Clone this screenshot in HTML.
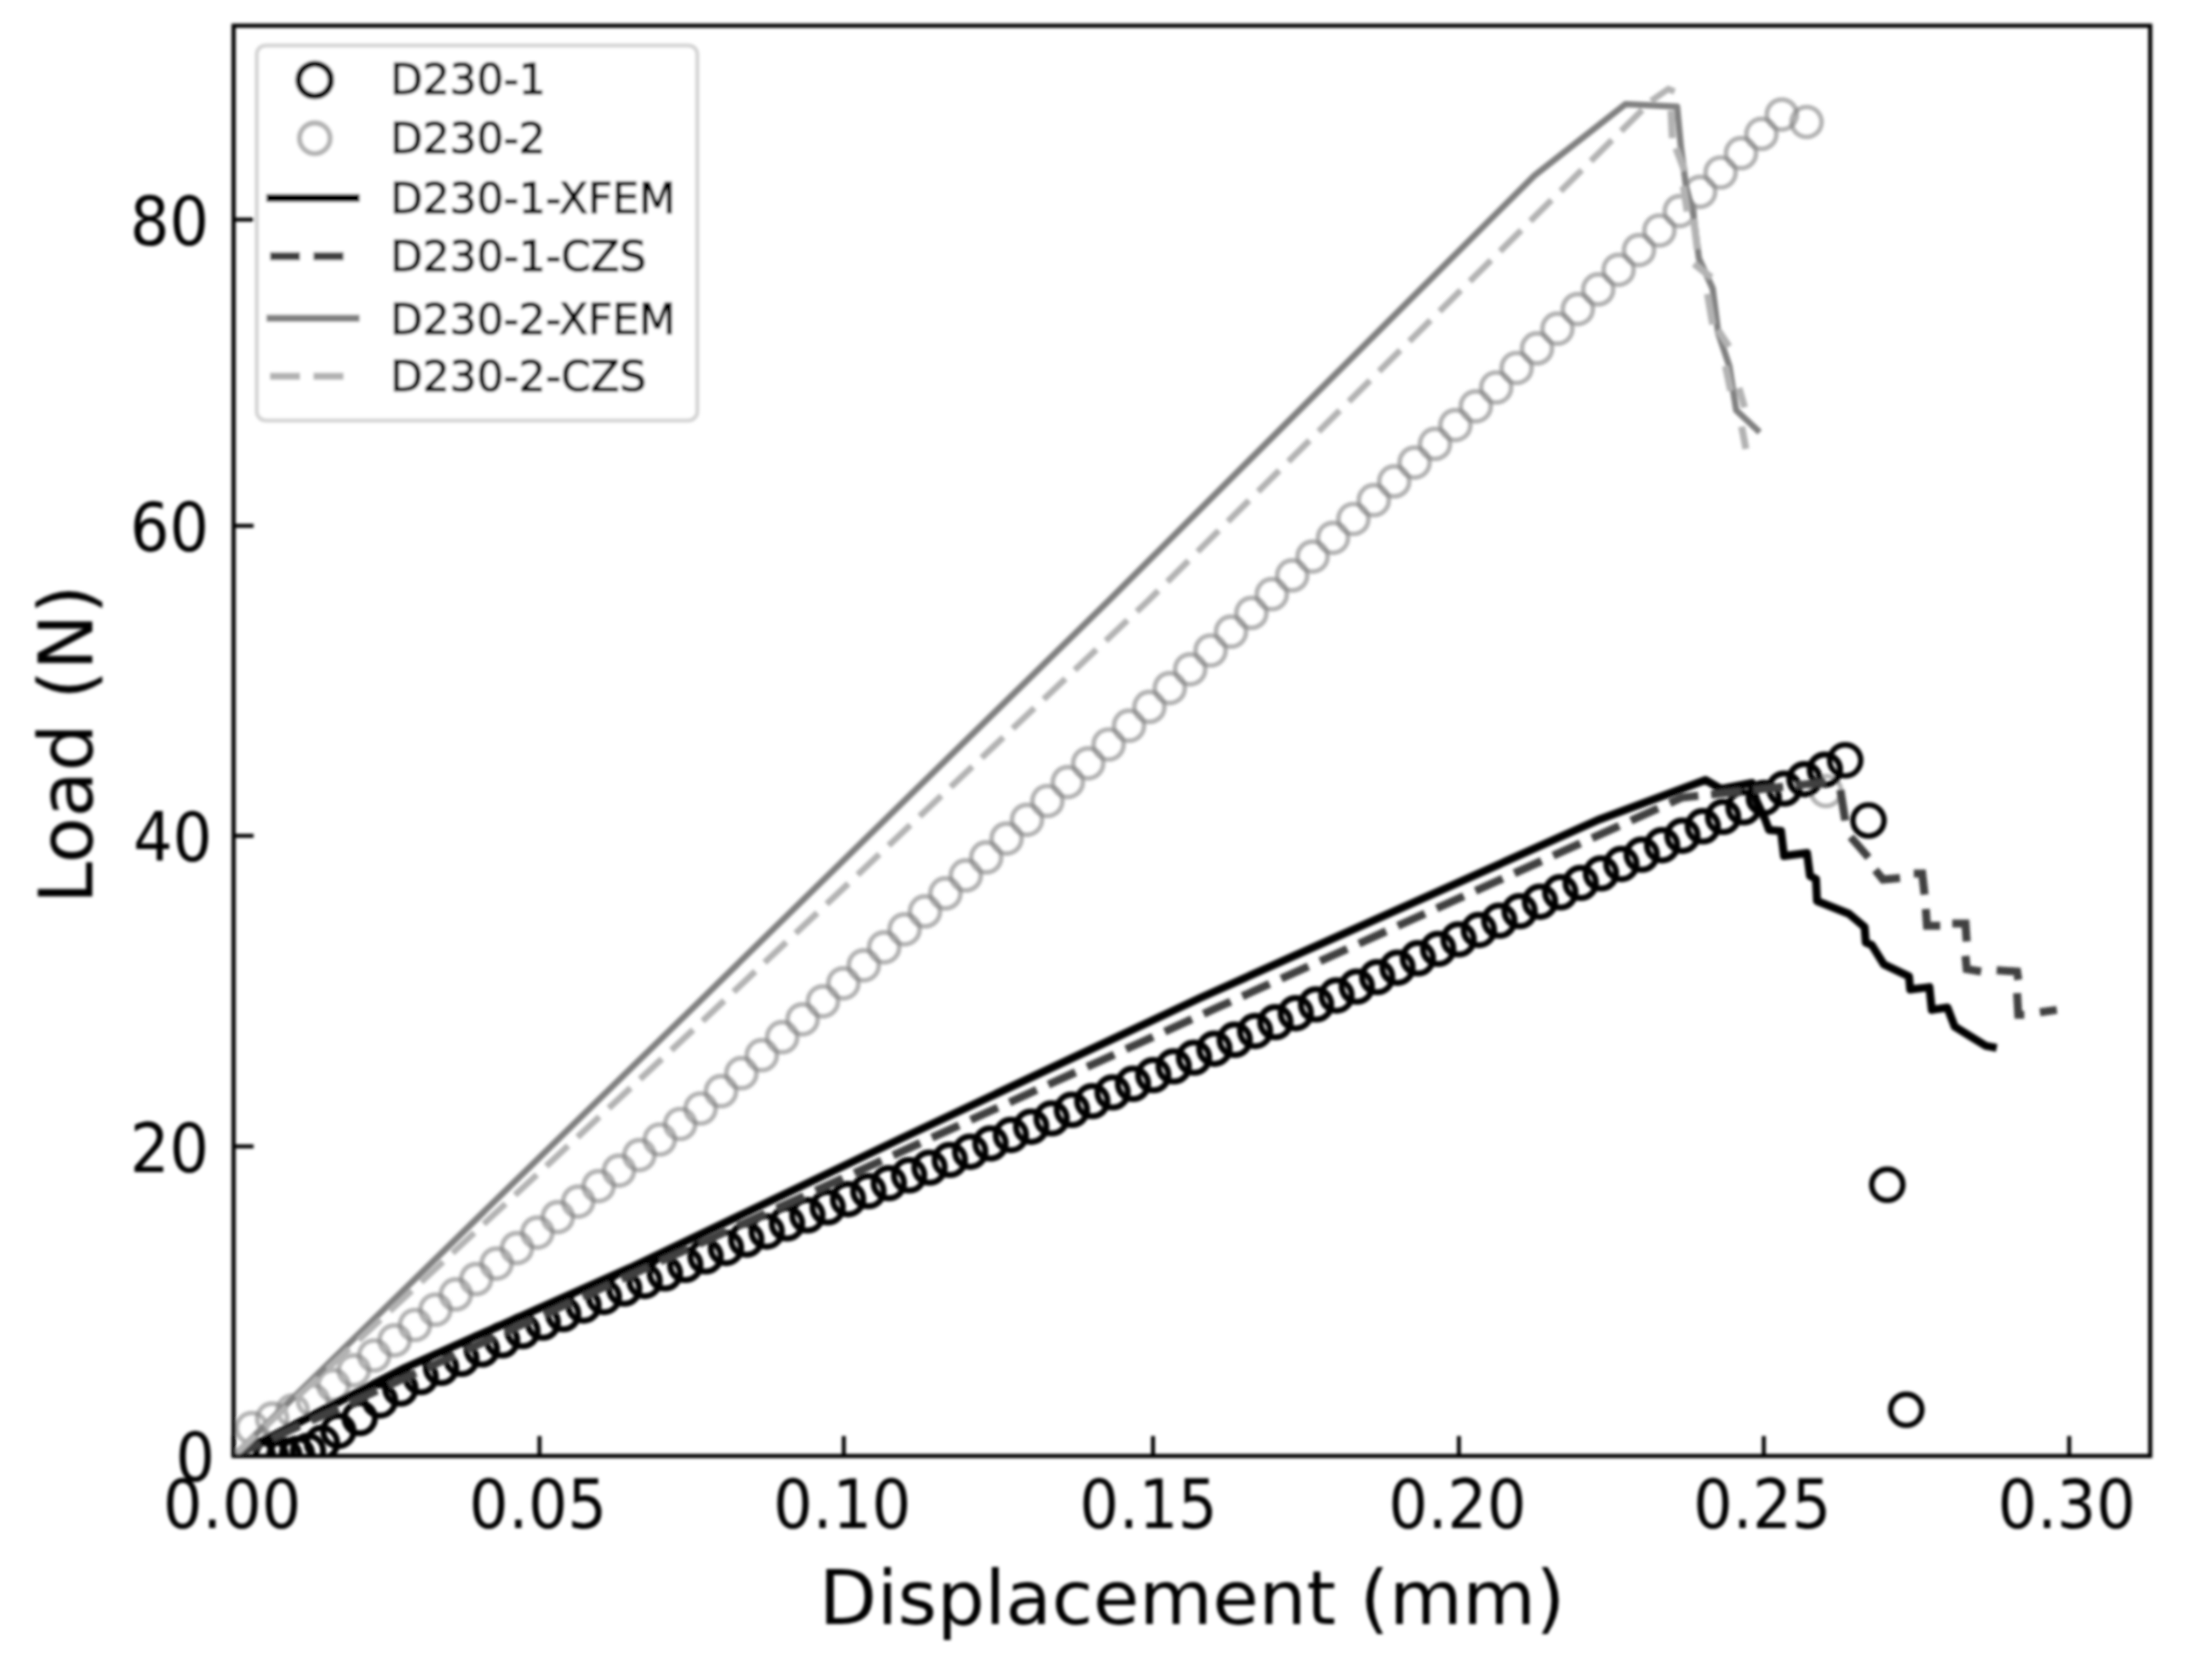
<!DOCTYPE html>
<html><head><meta charset="utf-8"><title>Load-Displacement</title>
<style>html,body{margin:0;padding:0;background:#fff}body{width:2190px;height:1665px;overflow:hidden}svg text{font-family:"DejaVu Sans","Liberation Sans",sans-serif;fill:#000}.t{stroke:none}.t2{stroke:#000;stroke-width:1.0px}</style>
</head><body>
<svg width="2190" height="1665" viewBox="0 0 2190 1665" style="display:block">
<defs><clipPath id="ax"><rect x="233.6" y="25.7" width="1916.6" height="1430.3"/></clipPath><filter id="bl" x="-2%" y="-2%" width="104%" height="104%"><feGaussianBlur stdDeviation="1.5"/></filter></defs>
<rect width="2190" height="1665" fill="#fff"/>
<g filter="url(#bl)">
<g clip-path="url(#ax)">
<g fill="none" stroke="#808080" stroke-width="4.7" stroke-opacity="0.6"><circle cx="251.8" cy="1428.0" r="15.0"/>
<circle cx="272.2" cy="1418.7" r="15.0"/>
<circle cx="292.6" cy="1410.6" r="15.0"/>
<circle cx="313.0" cy="1400.5" r="15.0"/>
<circle cx="333.4" cy="1385.2" r="15.0"/>
<circle cx="353.8" cy="1370.3" r="15.0"/>
<circle cx="374.2" cy="1355.5" r="15.0"/>
<circle cx="394.6" cy="1340.3" r="15.0"/>
<circle cx="415.0" cy="1325.0" r="15.0"/>
<circle cx="435.4" cy="1309.7" r="15.0"/>
<circle cx="455.8" cy="1294.4" r="15.0"/>
<circle cx="476.2" cy="1279.1" r="15.0"/>
<circle cx="496.6" cy="1263.6" r="15.0"/>
<circle cx="517.0" cy="1248.1" r="15.0"/>
<circle cx="537.4" cy="1232.6" r="15.0"/>
<circle cx="557.8" cy="1217.1" r="15.0"/>
<circle cx="578.2" cy="1201.6" r="15.0"/>
<circle cx="598.6" cy="1186.1" r="15.0"/>
<circle cx="619.0" cy="1170.6" r="15.0"/>
<circle cx="639.4" cy="1155.1" r="15.0"/>
<circle cx="659.8" cy="1139.5" r="15.0"/>
<circle cx="680.2" cy="1124.0" r="15.0"/>
<circle cx="700.6" cy="1108.5" r="15.0"/>
<circle cx="721.0" cy="1091.2" r="15.0"/>
<circle cx="741.4" cy="1073.2" r="15.0"/>
<circle cx="761.8" cy="1055.2" r="15.0"/>
<circle cx="782.2" cy="1037.2" r="15.0"/>
<circle cx="802.6" cy="1019.3" r="15.0"/>
<circle cx="823.0" cy="1001.3" r="15.0"/>
<circle cx="843.4" cy="983.3" r="15.0"/>
<circle cx="863.8" cy="965.3" r="15.0"/>
<circle cx="884.2" cy="947.3" r="15.0"/>
<circle cx="904.6" cy="929.3" r="15.0"/>
<circle cx="925.0" cy="911.4" r="15.0"/>
<circle cx="945.4" cy="893.4" r="15.0"/>
<circle cx="965.8" cy="875.4" r="15.0"/>
<circle cx="986.2" cy="857.4" r="15.0"/>
<circle cx="1006.6" cy="838.6" r="15.0"/>
<circle cx="1027.0" cy="819.8" r="15.0"/>
<circle cx="1047.4" cy="801.0" r="15.0"/>
<circle cx="1067.8" cy="782.1" r="15.0"/>
<circle cx="1088.2" cy="763.3" r="15.0"/>
<circle cx="1108.6" cy="744.5" r="15.0"/>
<circle cx="1129.0" cy="725.7" r="15.0"/>
<circle cx="1149.4" cy="706.9" r="15.0"/>
<circle cx="1169.8" cy="688.1" r="15.0"/>
<circle cx="1190.2" cy="669.3" r="15.0"/>
<circle cx="1210.6" cy="650.5" r="15.0"/>
<circle cx="1231.0" cy="631.7" r="15.0"/>
<circle cx="1251.4" cy="612.9" r="15.0"/>
<circle cx="1271.8" cy="594.2" r="15.0"/>
<circle cx="1292.2" cy="575.4" r="15.0"/>
<circle cx="1312.6" cy="556.6" r="15.0"/>
<circle cx="1333.0" cy="537.8" r="15.0"/>
<circle cx="1353.4" cy="519.0" r="15.0"/>
<circle cx="1373.8" cy="500.2" r="15.0"/>
<circle cx="1394.2" cy="481.4" r="15.0"/>
<circle cx="1414.6" cy="462.6" r="15.0"/>
<circle cx="1435.0" cy="443.9" r="15.0"/>
<circle cx="1455.4" cy="425.1" r="15.0"/>
<circle cx="1475.8" cy="406.3" r="15.0"/>
<circle cx="1496.2" cy="387.5" r="15.0"/>
<circle cx="1516.6" cy="368.0" r="15.0"/>
<circle cx="1537.0" cy="348.4" r="15.0"/>
<circle cx="1557.4" cy="328.7" r="15.0"/>
<circle cx="1577.8" cy="309.1" r="15.0"/>
<circle cx="1598.2" cy="289.4" r="15.0"/>
<circle cx="1618.6" cy="269.8" r="15.0"/>
<circle cx="1639.0" cy="250.1" r="15.0"/>
<circle cx="1659.4" cy="230.5" r="15.0"/>
<circle cx="1679.8" cy="211.1" r="15.0"/>
<circle cx="1700.2" cy="191.8" r="15.0"/>
<circle cx="1720.6" cy="172.5" r="15.0"/>
<circle cx="1741.0" cy="153.2" r="15.0"/>
<circle cx="1761.4" cy="133.9" r="15.0"/>
<circle cx="1781.8" cy="114.6" r="15.0"/>
<circle cx="1806.6" cy="122.0" r="15.0"/>
<circle cx="1826.0" cy="791.0" r="15.0"/></g>
<g fill="none" stroke="#000" stroke-width="6.0"><circle cx="258.0" cy="1456.0" r="15.2"/>
<circle cx="271.0" cy="1456.0" r="15.2"/>
<circle cx="284.4" cy="1455.5" r="15.2"/>
<circle cx="297.0" cy="1454.0" r="15.2"/>
<circle cx="308.0" cy="1451.0" r="15.2"/>
<circle cx="322.0" cy="1443.0" r="15.2"/>
<circle cx="338.4" cy="1431.0" r="15.2"/>
<circle cx="359.7" cy="1418.1" r="15.2"/>
<circle cx="380.0" cy="1400.5" r="15.2"/>
<circle cx="400.4" cy="1388.6" r="15.2"/>
<circle cx="420.7" cy="1377.1" r="15.2"/>
<circle cx="441.1" cy="1367.8" r="15.2"/>
<circle cx="461.4" cy="1358.9" r="15.2"/>
<circle cx="481.8" cy="1349.4" r="15.2"/>
<circle cx="502.1" cy="1340.3" r="15.2"/>
<circle cx="522.5" cy="1331.1" r="15.2"/>
<circle cx="542.8" cy="1322.6" r="15.2"/>
<circle cx="563.2" cy="1314.1" r="15.2"/>
<circle cx="583.5" cy="1305.5" r="15.2"/>
<circle cx="603.9" cy="1297.0" r="15.2"/>
<circle cx="624.2" cy="1288.6" r="15.2"/>
<circle cx="644.6" cy="1281.0" r="15.2"/>
<circle cx="664.9" cy="1273.3" r="15.2"/>
<circle cx="685.3" cy="1264.9" r="15.2"/>
<circle cx="705.6" cy="1256.4" r="15.2"/>
<circle cx="726.0" cy="1248.0" r="15.2"/>
<circle cx="746.3" cy="1239.6" r="15.2"/>
<circle cx="766.7" cy="1231.5" r="15.2"/>
<circle cx="787.0" cy="1223.4" r="15.2"/>
<circle cx="807.4" cy="1215.3" r="15.2"/>
<circle cx="827.7" cy="1207.3" r="15.2"/>
<circle cx="848.1" cy="1199.2" r="15.2"/>
<circle cx="868.4" cy="1191.1" r="15.2"/>
<circle cx="888.8" cy="1183.1" r="15.2"/>
<circle cx="909.1" cy="1175.3" r="15.2"/>
<circle cx="929.5" cy="1167.6" r="15.2"/>
<circle cx="949.8" cy="1159.9" r="15.2"/>
<circle cx="970.2" cy="1151.7" r="15.2"/>
<circle cx="990.5" cy="1143.4" r="15.2"/>
<circle cx="1010.9" cy="1135.0" r="15.2"/>
<circle cx="1031.2" cy="1126.7" r="15.2"/>
<circle cx="1051.6" cy="1118.4" r="15.2"/>
<circle cx="1071.9" cy="1109.8" r="15.2"/>
<circle cx="1092.3" cy="1101.1" r="15.2"/>
<circle cx="1112.6" cy="1092.4" r="15.2"/>
<circle cx="1133.0" cy="1083.8" r="15.2"/>
<circle cx="1153.3" cy="1075.1" r="15.2"/>
<circle cx="1173.7" cy="1066.4" r="15.2"/>
<circle cx="1194.0" cy="1057.6" r="15.2"/>
<circle cx="1214.4" cy="1048.7" r="15.2"/>
<circle cx="1234.7" cy="1039.8" r="15.2"/>
<circle cx="1255.1" cy="1031.0" r="15.2"/>
<circle cx="1275.4" cy="1022.1" r="15.2"/>
<circle cx="1295.8" cy="1013.2" r="15.2"/>
<circle cx="1316.1" cy="1004.4" r="15.2"/>
<circle cx="1336.5" cy="995.5" r="15.2"/>
<circle cx="1356.8" cy="986.6" r="15.2"/>
<circle cx="1377.2" cy="977.1" r="15.2"/>
<circle cx="1397.5" cy="967.7" r="15.2"/>
<circle cx="1417.9" cy="958.3" r="15.2"/>
<circle cx="1438.2" cy="948.9" r="15.2"/>
<circle cx="1458.6" cy="939.4" r="15.2"/>
<circle cx="1478.9" cy="930.0" r="15.2"/>
<circle cx="1499.3" cy="920.6" r="15.2"/>
<circle cx="1519.6" cy="911.1" r="15.2"/>
<circle cx="1540.0" cy="901.7" r="15.2"/>
<circle cx="1560.3" cy="892.3" r="15.2"/>
<circle cx="1580.7" cy="882.9" r="15.2"/>
<circle cx="1601.0" cy="873.4" r="15.2"/>
<circle cx="1621.4" cy="864.0" r="15.2"/>
<circle cx="1641.7" cy="854.6" r="15.2"/>
<circle cx="1662.1" cy="845.2" r="15.2"/>
<circle cx="1682.4" cy="835.7" r="15.2"/>
<circle cx="1702.8" cy="826.3" r="15.2"/>
<circle cx="1723.1" cy="816.9" r="15.2"/>
<circle cx="1743.5" cy="807.4" r="15.2"/>
<circle cx="1763.8" cy="798.0" r="15.2"/>
<circle cx="1784.2" cy="788.6" r="15.2"/>
<circle cx="1804.5" cy="779.2" r="15.2"/>
<circle cx="1824.9" cy="769.7" r="15.2"/></g>
<g fill="none" stroke="#000" stroke-width="5.4"><circle cx="1845.2" cy="760.3" r="15.6"/>
<circle cx="1868.5" cy="820.5" r="15.6"/>
<circle cx="1887.3" cy="1184.8" r="15.6"/>
<circle cx="1906.3" cy="1409.8" r="15.6"/></g>
<path d="M233.6,1456.0 L405.0,1367.8 L630.0,1268.0 L900.0,1139.0 L1200.0,998.0 L1600.0,819.2 L1705.5,780.0 L1721.0,789.0 L1752.0,783.0 L1756.0,800.0 L1765.0,819.0 L1769.0,830.0 L1781.0,831.0 L1784.0,856.0 L1807.0,853.0 L1810.0,876.0 L1816.0,879.0 L1817.0,901.0 L1848.9,913.8 L1864.6,927.0 L1865.8,942.6 L1871.8,945.0 L1883.8,964.3 L1909.0,976.3 L1910.2,989.5 L1929.4,987.1 L1931.8,1009.9 L1947.4,1007.5 L1954.7,1026.7 L1985.9,1045.9 L1996.7,1047.9" fill="none" stroke="#000" stroke-width="8" stroke-linejoin="round"/>
<path d="M233.6,1456.0 L1217.1,1007.7 L1681.7,797.6 L1838.4,780.8" fill="none" stroke="#404040" stroke-width="8" stroke-dasharray="29.8 12.84" stroke-dashoffset="0"/>
<path d="M1840.4,790.0 L1845.2,820.5" fill="none" stroke="#404040" stroke-width="8" stroke-linejoin="miter"/>
<path d="M1850.7,837.0 L1868.5,857.5" fill="none" stroke="#404040" stroke-width="8" stroke-linejoin="miter"/>
<path d="M1875.3,870.0 L1883.0,879.5 L1900.0,878.0" fill="none" stroke="#404040" stroke-width="8" stroke-linejoin="miter"/>
<path d="M1913.8,873.5 L1922.2,873.5 L1924.6,894.6" fill="none" stroke="#404040" stroke-width="8" stroke-linejoin="miter"/>
<path d="M1925.8,909.0 L1927.0,925.8 L1940.2,925.8" fill="none" stroke="#404040" stroke-width="8" stroke-linejoin="miter"/>
<path d="M1952.3,923.4 L1965.5,923.4 L1966.7,941.4" fill="none" stroke="#404040" stroke-width="8" stroke-linejoin="miter"/>
<path d="M1965.5,955.9 L1966.7,969.1 L1981.1,971.5" fill="none" stroke="#404040" stroke-width="8" stroke-linejoin="miter"/>
<path d="M1996.7,970.3 L2017.1,971.5 L2018.3,979.9" fill="none" stroke="#404040" stroke-width="8" stroke-linejoin="miter"/>
<path d="M2017.1,993.1 L2018.3,1014.7 L2024.3,1014.7" fill="none" stroke="#404040" stroke-width="8" stroke-linejoin="miter"/>
<path d="M2039.9,1012.3 L2056.8,1009.9" fill="none" stroke="#404040" stroke-width="8" stroke-linejoin="miter"/>
<path d="M233.6,1456.0 L700.0,1000.9 L1109.4,600.0 L1534.5,175.4 L1625.4,104.2 L1677.1,106.7 L1680.9,147.0 L1686.0,186.2 L1693.5,215.2 L1698.9,258.2 L1712.7,288.6 L1718.2,332.8 L1729.3,366.0 L1736.2,410.2 L1759.7,432.3" fill="none" stroke="#808080" stroke-width="6.3" stroke-linejoin="round"/>
<path d="M233.6,1456.0 L700.0,1023.5 L1148.9,600.0 L1651.9,100.4 L1668.3,89.0 L1674.6,91.5" fill="none" stroke="#b2b2b2" stroke-width="6.3" stroke-dasharray="29.8 12.84" stroke-dashoffset="0"/>
<path d="M1671.0,110.5 L1672.3,138.2" fill="none" stroke="#b2b2b2" stroke-width="7"/>
<path d="M1676.0,148.3 L1684.7,171.0" fill="none" stroke="#b2b2b2" stroke-width="7"/>
<path d="M1683.4,186.2 L1687.2,211.4" fill="none" stroke="#b2b2b2" stroke-width="7"/>
<path d="M1693.5,219.0 L1697.3,249.2" fill="none" stroke="#b2b2b2" stroke-width="7"/>
<path d="M1694.0,263.8 L1711.3,277.6" fill="none" stroke="#b2b2b2" stroke-width="7"/>
<path d="M1707.5,294.0 L1712.7,324.5" fill="none" stroke="#b2b2b2" stroke-width="7"/>
<path d="M1718.0,330.0 L1729.0,346.6" fill="none" stroke="#b2b2b2" stroke-width="7"/>
<path d="M1725.5,366.0 L1730.7,390.8" fill="none" stroke="#b2b2b2" stroke-width="7"/>
<path d="M1739.0,388.0 L1744.5,407.4" fill="none" stroke="#b2b2b2" stroke-width="7"/>
<path d="M1741.7,426.7 L1745.9,448.8" fill="none" stroke="#b2b2b2" stroke-width="7"/>
</g>
<line x1="233.6" y1="1456.0" x2="233.6" y2="1436.0" stroke="#000" stroke-width="4"/>
<line x1="539.5" y1="1456.0" x2="539.5" y2="1436.0" stroke="#000" stroke-width="4"/>
<line x1="843.8" y1="1456.0" x2="843.8" y2="1436.0" stroke="#000" stroke-width="4"/>
<line x1="1153" y1="1456.0" x2="1153" y2="1436.0" stroke="#000" stroke-width="4"/>
<line x1="1458.9" y1="1456.0" x2="1458.9" y2="1436.0" stroke="#000" stroke-width="4"/>
<line x1="1763.8" y1="1456.0" x2="1763.8" y2="1436.0" stroke="#000" stroke-width="4"/>
<line x1="2069.2" y1="1456.0" x2="2069.2" y2="1436.0" stroke="#000" stroke-width="4"/>
<line x1="233.6" y1="1456" x2="253.6" y2="1456" stroke="#000" stroke-width="4"/>
<line x1="233.6" y1="1146.4" x2="253.6" y2="1146.4" stroke="#000" stroke-width="4"/>
<line x1="233.6" y1="835.8" x2="253.6" y2="835.8" stroke="#000" stroke-width="4"/>
<line x1="233.6" y1="525.8" x2="253.6" y2="525.8" stroke="#000" stroke-width="4"/>
<line x1="233.6" y1="219.6" x2="253.6" y2="219.6" stroke="#000" stroke-width="4"/>
<rect x="233.6" y="25.7" width="1916.6" height="1430.3" fill="none" stroke="#000" stroke-width="4.2"/>
<text transform="translate(232.1,1528.1) scale(1.0,1.085)" font-size="62" text-anchor="middle" class="t">0.00</text>
<text transform="translate(538.0,1528.1) scale(1.0,1.085)" font-size="62" text-anchor="middle" class="t">0.05</text>
<text transform="translate(842.3,1528.1) scale(1.0,1.085)" font-size="62" text-anchor="middle" class="t">0.10</text>
<text transform="translate(1148.5,1528.1) scale(1.0,1.085)" font-size="62" text-anchor="middle" class="t">0.15</text>
<text transform="translate(1457.4,1528.1) scale(1.0,1.085)" font-size="62" text-anchor="middle" class="t">0.20</text>
<text transform="translate(1762.3,1528.1) scale(1.0,1.085)" font-size="62" text-anchor="middle" class="t">0.25</text>
<text transform="translate(2066.7,1528.1) scale(1.0,1.085)" font-size="62" text-anchor="middle" class="t">0.30</text>
<text transform="translate(215.0,1481.3) scale(1.0,1.085)" font-size="62" text-anchor="end" class="t">0</text>
<text transform="translate(209,1171.7) scale(1.0,1.085)" font-size="62" text-anchor="end" class="t">20</text>
<text transform="translate(212.2,861.0999999999999) scale(1.0,1.085)" font-size="62" text-anchor="end" class="t">40</text>
<text transform="translate(209,551.0999999999999) scale(1.0,1.085)" font-size="62" text-anchor="end" class="t">60</text>
<text transform="translate(209,244.9) scale(1.0,1.085)" font-size="62" text-anchor="end" class="t">80</text>
<text x="1192" y="1624.2" font-size="75.2" text-anchor="middle" class="t">Displacement (mm)</text>
<text transform="translate(92.3,744.3) rotate(-90)" font-size="75.2" text-anchor="middle" class="t">Load (N)</text>
<rect x="256.8" y="45.4" width="440.5" height="375" rx="9" ry="9" fill="#fff" fill-opacity="0.8" stroke="#d4d4d4" stroke-width="4"/>
<circle cx="314.8" cy="80" r="16.2" fill="none" stroke="#000" stroke-width="6.3"/>
<circle cx="314.8" cy="138.3" r="15.3" fill="none" stroke="#808080" stroke-opacity="0.6" stroke-width="5.3"/>
<line x1="266.5" x2="359.5" y1="198.1" y2="198.1" stroke="#000" stroke-width="8"/>
<path d="M270,256.2 H300 M313.5,256.2 H343.5" stroke="#404040" stroke-width="8"/>
<line x1="266.5" x2="359.5" y1="318.3" y2="318.3" stroke="#808080" stroke-width="7"/>
<path d="M270,376.2 H300 M313.5,376.2 H343.5" stroke="#b2b2b2" stroke-width="7"/>
<text x="390.3" y="93.5" font-size="42.3" class="t2">D230-1</text>
<text x="390.3" y="152.5" font-size="42.3" class="t2">D230-2</text>
<text x="390.3" y="213.3" font-size="42.3" class="t2">D230-1-XFEM</text>
<text x="390.3" y="271" font-size="42.3" class="t2">D230-1-CZS</text>
<text x="390.3" y="333.5" font-size="42.3" class="t2">D230-2-XFEM</text>
<text x="390.3" y="391.3" font-size="42.3" class="t2">D230-2-CZS</text>
</g></svg>
</body></html>
